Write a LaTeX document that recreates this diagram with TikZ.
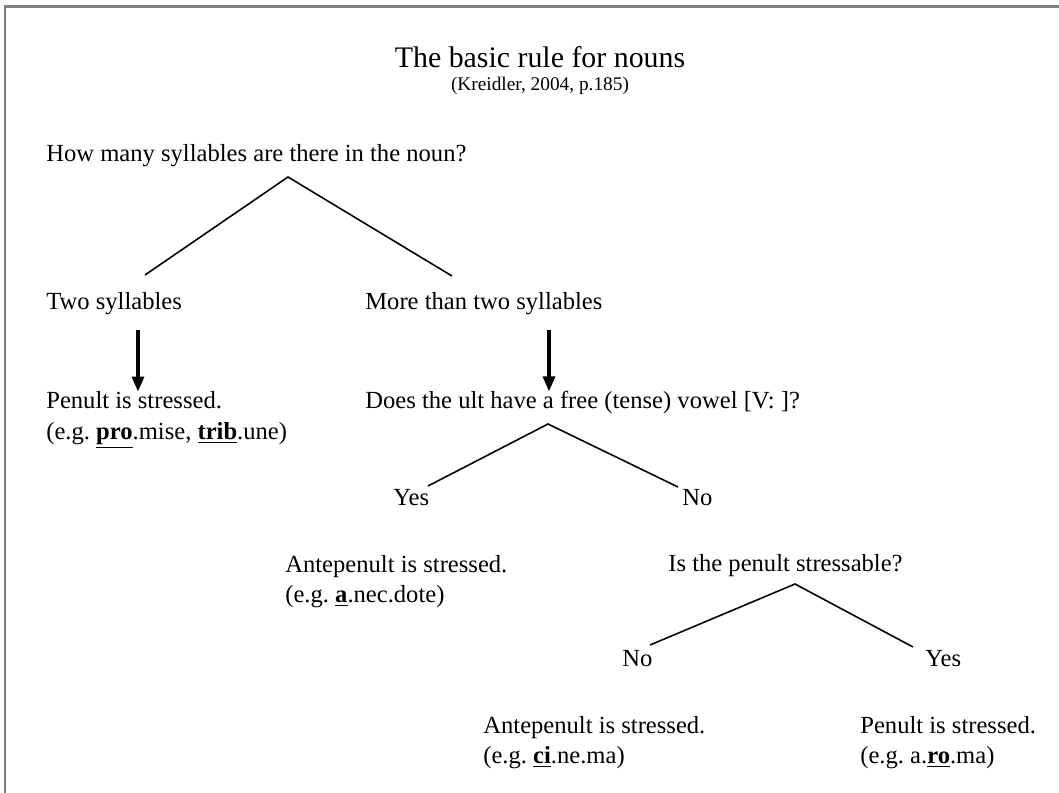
\documentclass[tikz,border=0pt]{standalone}
\usepackage{fontspec}
\setmainfont{Liberation Serif}
\usetikzlibrary{arrows.meta}
\tikzset{
  txt/.style={anchor=base west, inner sep=0pt, font=\fontsize{14}{17}\selectfont},
  branch/.style={line width=0.9pt},
  down/.style={line width=1.8pt, -{Triangle[length=0.3cm,width=0.24cm]}},
}
\newcommand{\stress}[1]{\underline{\textbf{#1}}}

\begin{document}
\begin{tikzpicture}[x=0.02cm, y=-0.02cm]
  \useasboundingbox (0,0) rectangle (1059,793);
  % window edge
  \draw[gray, line width=1.7pt] (5,793) -- (5,7) -- (1059,7);

  % heading
  \node[anchor=base, inner sep=0pt, font=\fontsize{17}{21}\selectfont] (title) at (540,68) {The basic rule for nouns};
  \node[anchor=base, inner sep=0pt, font=\fontsize{11}{13}\selectfont] (source) at (540,91) {(Kreidler, 2004, p.185)};

  % first question
  \node[txt] (q1) at (46,162) {How many syllables are there in the noun?};
  \node[txt] (two) at (46,310) {Two syllables};
  \node[txt] (more) at (365,310) {More than two syllables};
  \coordinate (q1top) at (288,177);
  \coordinate (q1l) at (145,275);
  \coordinate (q1r) at (452,276);
  \draw[branch] (q1l) -- (q1top) -- (q1r);

  % two syllables
  \node[txt] (pen1) at (46,409) {Penult is stressed.};
  \node[txt] (pen1eg) at (46,440) {(e.g.\ \stress{pro}.mise, \stress{trib}.une)};
  \coordinate (a1) at (138,330);
  \draw[down] (a1) -- (a1 |- pen1.north);

  % more than two syllables
  \node[txt] (q2) at (365,409) {Does the ult have a free (tense) vowel [V: ]?};
  \coordinate (a2) at (549,330);
  \draw[down] (a2) -- (a2 |- q2.north);
  \coordinate (q2top) at (548,424);
  \coordinate (q2l) at (428,486);
  \coordinate (q2r) at (678,487);
  \draw[branch] (q2l) -- (q2top) -- (q2r);
  \node[txt] (yes1) at (393,506) {Yes};
  \node[txt] (no1) at (682,506) {No};

  % free vowel
  \node[txt] (ante1) at (285,573) {Antepenult is stressed.};
  \node[txt] (ante1eg) at (285,603) {(e.g.\ \stress{a}.nec.dote)};

  % no free vowel
  \node[txt] (q3) at (668,572) {Is the penult stressable?};
  \coordinate (q3top) at (795,584);
  \coordinate (q3l) at (650,645);
  \coordinate (q3r) at (913,647);
  \draw[branch] (q3l) -- (q3top) -- (q3r);
  \node[txt] (no2) at (622,667) {No};
  \node[txt] (yes2) at (925,667) {Yes};

  \node[txt] (ante2) at (483,734) {Antepenult is stressed.};
  \node[txt] (ante2eg) at (483,764) {(e.g.\ \stress{ci}.ne.ma)};
  \node[txt] (pen2) at (860,734) {Penult is stressed.};
  \node[txt] (pen2eg) at (860,764) {(e.g.\ a.\stress{ro}.ma)};
\end{tikzpicture}
\end{document}
